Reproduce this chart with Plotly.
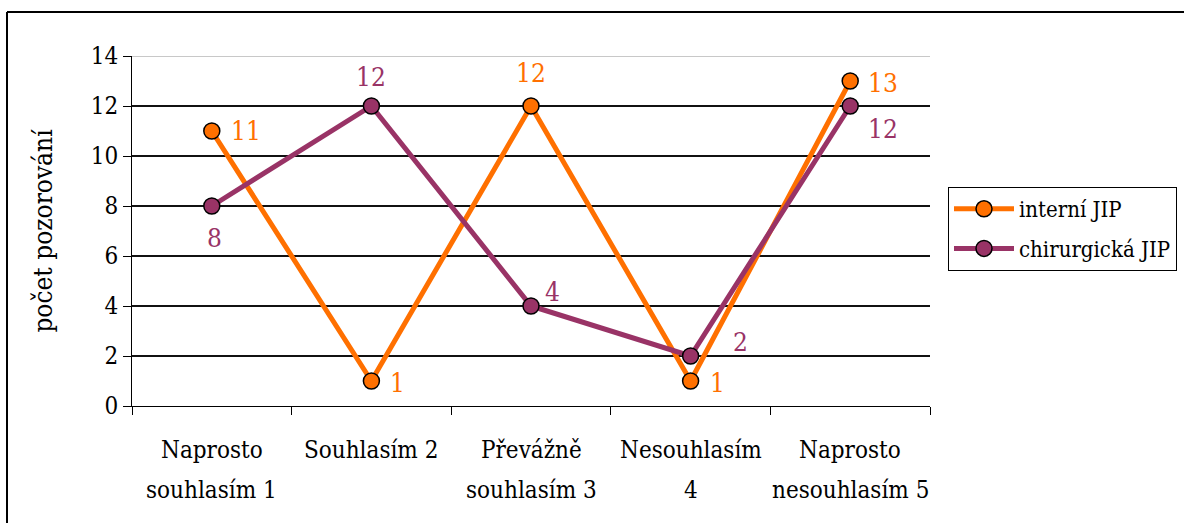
import plotly.graph_objects as go

categories = ["Naprosto<br>souhlasím 1", "Souhlasím 2", "Převážně<br>souhlasím 3",
              "Nesouhlasím<br>4", "Naprosto<br>nesouhlasím 5"]
interni = [11, 1, 12, 1, 13]
chirurgicka = [8, 12, 4, 2, 12]
y_ticks = [0, 2, 4, 6, 8, 10, 12, 14]

ORANGE = "#FF7000"
PURPLE = "#993366"
FONT = "DejaVu Serif Condensed"

fig = go.Figure()
fig.add_trace(go.Scatter(
    x=categories, y=interni, name="interní JIP", mode="lines+markers",
    legendgroup="a",
    line=dict(color=ORANGE, width=5),
    marker=dict(size=16, color=ORANGE, line=dict(color="black", width=1.5)),
))
fig.add_trace(go.Scatter(
    x=categories, y=chirurgicka, name="chirurgická JIP", mode="lines+markers",
    legendgroup="b",
    line=dict(color=PURPLE, width=5),
    marker=dict(size=16, color=PURPLE, line=dict(color="black", width=1.5)),
))

# value labels, offset in pixels from their points
orange_offsets = [(34, 0), (26, -2), (0, 33), (27, -2), (33, -2)]
purple_offsets = [(3, -32), (0, 29), (21, 14), (50, 14), (33, -23)]
for series, color, offsets in ((interni, ORANGE, orange_offsets),
                               (chirurgicka, PURPLE, purple_offsets)):
    for cat, val, (dx, dy) in zip(categories, series, offsets):
        fig.add_annotation(x=cat, y=val, text=str(val), showarrow=False,
                           xshift=dx, yshift=dy,
                           font=dict(family=FONT, size=26, color=color))

# light top edge of the plot area at 14
fig.add_shape(type="line", xref="paper", yref="y", x0=0, x1=1, y0=14, y1=14,
              line=dict(color="#C8C8C8", width=2))

# outer chart frame (top and left edges)
L, T, W, H = 132, 56, 798, 350
def px_x(p):
    return (p - L) / W
def px_y(p):
    return (T + H - p) / H
fig.add_shape(type="line", xref="paper", yref="paper",
              x0=px_x(7), x1=px_x(1190), y0=px_y(12), y1=px_y(12),
              line=dict(color="black", width=2))
fig.add_shape(type="line", xref="paper", yref="paper",
              x0=px_x(7), x1=px_x(7), y0=px_y(12), y1=px_y(530),
              line=dict(color="black", width=2))

# category labels, one annotation per text line for wider line spacing
for cat in categories:
    for i, line in enumerate(cat.split("<br>")):
        fig.add_annotation(x=cat, xref="x", yref="paper", y=px_y(450 + 40 * i),
                           yanchor="middle", text=line, showarrow=False,
                           font=dict(family=FONT, size=24, color="black"))

fig.update_layout(
    width=1184, height=523,
    margin=dict(l=L, r=1184 - L - W, t=T, b=523 - T - H, autoexpand=False),
    paper_bgcolor="white", plot_bgcolor="white",
    font=dict(family=FONT, size=24, color="black"),
    showlegend=True,
    legend=dict(x=px_x(948), y=px_y(187), xanchor="left", yanchor="top",
                bgcolor="white", bordercolor="black", borderwidth=1,
                font=dict(family=FONT, size=22, color="black"),
                tracegroupgap=8, itemwidth=60),
    xaxis=dict(type="category", tickson="boundaries", ticks="outside",
               ticklen=8, tickcolor="black", showline=True, linecolor="black",
               linewidth=1, showgrid=False, range=[-0.5, 4.5],
               showticklabels=False, automargin=False),
    yaxis=dict(range=[0, 14], tickvals=y_ticks, ticks="outside", ticklen=8,
               tickcolor="black", showline=True, linecolor="black", linewidth=1,
               showgrid=True, gridcolor="#111111", gridwidth=1.5, zeroline=False,
               automargin=False,
               tickfont=dict(family=FONT, size=24, color="black"),
               title=dict(text="počet pozorování", standoff=30,
                          font=dict(family=FONT, size=26, color="black"))),
)

fig.write_html("out.html")
